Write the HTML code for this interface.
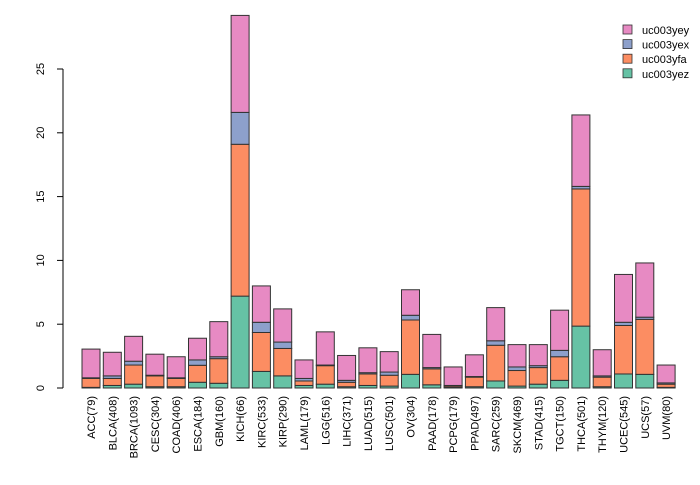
<!DOCTYPE html>
<html><head><meta charset="utf-8"><style>
body{margin:0;background:#fff;font-family:"Liberation Sans",sans-serif;}
</style></head><body>
<svg id="chart" width="700" height="480" xmlns="http://www.w3.org/2000/svg" font-family="Liberation Sans, sans-serif" font-size="11"></svg>
<script>
const categories=["ACC(79)","BLCA(408)","BRCA(1093)","CESC(304)","COAD(406)","ESCA(184)","GBM(160)","KICH(66)","KIRC(533)","KIRP(290)","LAML(179)","LGG(516)","LIHC(371)","LUAD(515)","LUSC(501)","OV(304)","PAAD(178)","PCPG(179)","PPAD(497)","SARC(259)","SKCM(469)","STAD(415)","TGCT(150)","THCA(501)","THYM(120)","UCEC(545)","UCS(57)","UVM(80)"];
const uc003yez=[0.05,0.2,0.3,0.1,0.1,0.45,0.37,7.2,1.3,0.95,0.2,0.3,0.1,0.2,0.15,1.07,0.25,0.05,0.1,0.55,0.15,0.3,0.6,4.85,0.1,1.1,1.07,0.05];
const uc003yfa=[0.7,0.55,1.5,0.85,0.65,1.33,1.93,11.9,3.05,2.15,0.35,1.45,0.35,0.9,0.85,4.26,1.25,0.1,0.75,2.8,1.22,1.3,1.85,10.75,0.75,3.8,4.31,0.25];
const uc003yex=[0.05,0.2,0.3,0.05,0.05,0.42,0.15,2.5,0.8,0.5,0.2,0.05,0.15,0.1,0.25,0.37,0.1,0.05,0.05,0.35,0.28,0.15,0.5,0.2,0.1,0.25,0.17,0.1];
const uc003yey=[2.25,1.85,1.95,1.65,1.65,1.7,2.75,7.6,2.85,2.6,1.45,2.6,1.95,1.95,1.6,2.0,2.6,1.45,1.7,2.6,1.75,1.65,3.15,5.6,2.05,3.75,4.25,1.4];
const yTicks=[0,5,10,15,20,25];
const seriesNames=["uc003yez","uc003yfa","uc003yex","uc003yey"];
const seriesData=[uc003yez,uc003yfa,uc003yex,uc003yey];
const colors=["#66c2a5","#fc8d62","#8da0cb","#e78ac3"];
const NS="http://www.w3.org/2000/svg";
const svg=document.getElementById("chart");
const y=v=>388-v*12.76;
const xc=i=>91+i*21.3;
const bw=18;
function mk(t,a){const e=document.createElementNS(NS,t);for(const k in a)e.setAttribute(k,a[k]);svg.appendChild(e);return e;}
categories.forEach((c,i)=>{
  let acc=0;
  seriesData.forEach((s,j)=>{
    const r=mk("rect",{x:xc(i)-bw/2,y:y(acc+s[i]),width:bw,height:s[i]*12.76,fill:colors[j],stroke:"#333","stroke-width":1});
    
    
    acc+=s[i];
  });
  const t=mk("text",{transform:`translate(${xc(i)+4},396) rotate(-90)`,"text-anchor":"end",fill:"#000"});
  t.textContent=c;
  
  
});
const ax=mk("line",{x1:63,x2:63,y1:y(0),y2:y(25),stroke:"#000"});


yTicks.forEach(v=>{
  const l=mk("line",{x1:57,x2:63,y1:y(v),y2:y(v),stroke:"#000"});
  
  
  const t=mk("text",{transform:`translate(44,${y(v)}) rotate(-90)`,"text-anchor":"middle",fill:"#000"});
  t.textContent=v;
  
  
});
[3,2,1,0].forEach((j,k)=>{
  const yy=30+k*14.6;
  const r=mk("rect",{x:623,y:yy-5,width:9,height:9,fill:colors[j],stroke:"#333","stroke-width":0.8});
  
  
  const t=mk("text",{x:642,y:yy+4,fill:"#000"});
  t.textContent=seriesNames[j];
  
  
});
</script>
</body></html>
